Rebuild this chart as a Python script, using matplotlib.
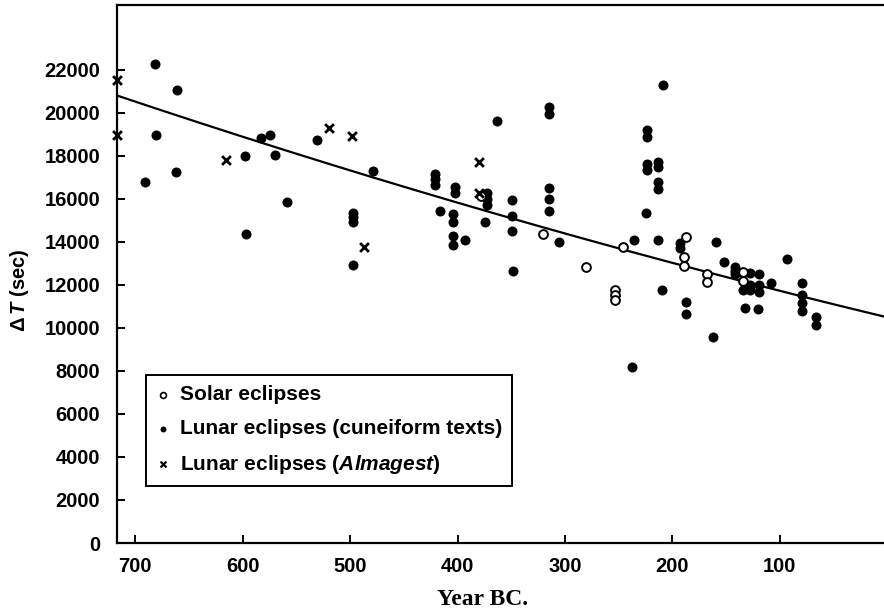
import numpy as np
import matplotlib
matplotlib.use("Agg")
import matplotlib.pyplot as plt

plt.rcParams['font.family'] = ['Liberation Sans', 'DejaVu Sans']
plt.rcParams['mathtext.fontset'] = 'custom'
plt.rcParams['mathtext.rm'] = 'Liberation Sans:bold'
plt.rcParams['mathtext.it'] = 'Liberation Sans:italic:bold'
plt.rcParams['mathtext.bf'] = 'Liberation Sans:bold'

# solar eclipses (year BC, delta T in seconds)
solar_year = [378, 320, 280, 253, 253, 253, 246, 187, 189, 189, 168, 168, 134, 134]
solar_dt = [16150, 14380, 12850, 11780, 11540, 11310, 13780, 14200, 13310, 12890,
            12480, 12150, 12600, 12200]

# lunar eclipses from cuneiform texts
lunar_year = [682, 681, 661, 662, 691, 598, 597, 583, 575, 570, 559, 531,
              497, 497, 497, 497, 479,
              421, 421, 421, 416, 402, 402, 404, 404, 404, 404, 393,
              373, 373, 373, 374, 363, 349, 349, 349, 348,
              315, 315, 315, 315, 315, 306, 238, 236,
              224, 224, 224, 224, 225, 213, 213, 213, 213, 213, 209, 210,
              193, 193, 187, 187, 162, 159, 152,
              142, 142, 142, 128, 128, 128, 134, 119, 119, 119, 132, 120,
              108, 93, 79, 79, 79, 79, 66, 66]
lunar_dt = [22250, 18950, 21040, 17220, 16760, 17970, 14340, 18800, 18950, 18010, 15870, 18710,
            15360, 15130, 14900, 12940, 17270,
            17130, 16900, 16660, 15450, 16530, 16290, 15270, 14940, 14290, 13830, 14100,
            16290, 15970, 15730, 14900, 19600, 15920, 15180, 14480, 12660,
            20250, 19920, 16480, 16010, 15410, 14010, 8190, 14100,
            19180, 18850, 17600, 17320, 15360, 17690, 17460, 16800, 16430, 14060, 21270, 11780,
            13920, 13690, 11220, 10660, 9590, 13970, 13080,
            12850, 12620, 12480, 12570, 12010, 11780, 11780, 12520, 12010, 11680, 10940, 10890,
            12100, 13220, 12100, 11540, 11170, 10800, 10520, 10150]

# lunar eclipses reported in the Almagest
almagest_year = [717, 717, 616, 520, 498, 487, 380, 380]
almagest_dt = [21500, 18950, 17780, 19270, 18900, 13780, 17690, 16290]

# parabolic fit, t in centuries from AD 1800
fit_c = 33.3
fit_offset = -300

fig = plt.figure(figsize=(8.84, 6.12), dpi=100)
ax = fig.add_axes([0.1324, 0.1127, 0.8676, 0.879])

yrs = np.linspace(720, 0, 200)
t = (1800 + yrs) / 100
ax.plot(yrs, fit_offset + fit_c * t ** 2, color='black', lw=1.6, zorder=1)

ax.scatter(solar_year, solar_dt, s=40, facecolor='white', edgecolor='black',
           linewidths=1.4, zorder=3, label='Solar eclipses')
ax.scatter(lunar_year, lunar_dt, s=52, color='black', linewidths=0, zorder=2,
           label='Lunar eclipses (cuneiform texts)')
ax.scatter(almagest_year, almagest_dt, s=40, marker='x', color='black',
           linewidths=2.0, zorder=3, clip_on=False,
           label=r'Lunar eclipses ($\mathit{Almagest}$)')

ax.set_xlim(717, 3)
ax.set_ylim(0, 25000)
ax.set_xticks([700, 600, 500, 400, 300, 200, 100])
ax.set_yticks(range(0, 22001, 2000))

for s in ['left', 'bottom', 'top']:
    ax.spines[s].set_linewidth(1.6)
ax.spines['right'].set_visible(False)
ax.tick_params(direction='in', length=6, width=1.4, labelsize=14.5)
ax.tick_params(axis='y', pad=12)
ax.tick_params(axis='x', pad=10)
for lbl in ax.get_xticklabels() + ax.get_yticklabels():
    lbl.set_fontweight('bold')

ax.set_ylabel(r'$\Delta\,\mathit{T}$ (sec)', fontsize=14.5, fontweight='bold')
ax.yaxis.set_label_coords(-0.112, 0.47)
fig.text(0.546, 0.012, 'Year BC.', family='Liberation Serif', fontweight='bold',
         fontsize=17, ha='center')

leg = ax.legend(loc='lower left', bbox_to_anchor=(0.038, 0.106), borderaxespad=0,
                frameon=True, fancybox=False, edgecolor='black', framealpha=1,
                handlelength=0.6, handletextpad=0.5,
                labelspacing=0.7, borderpad=0.5,
                prop={'family': 'Liberation Sans', 'weight': 'bold', 'size': 15})
leg.get_frame().set_linewidth(1.4)
for h in leg.legend_handles:
    h.set_sizes([18])
leg.legend_handles[0].set_linewidths(1.2)
leg.legend_handles[2].set_linewidths(1.6)

fig.savefig('out.png', dpi=100)
